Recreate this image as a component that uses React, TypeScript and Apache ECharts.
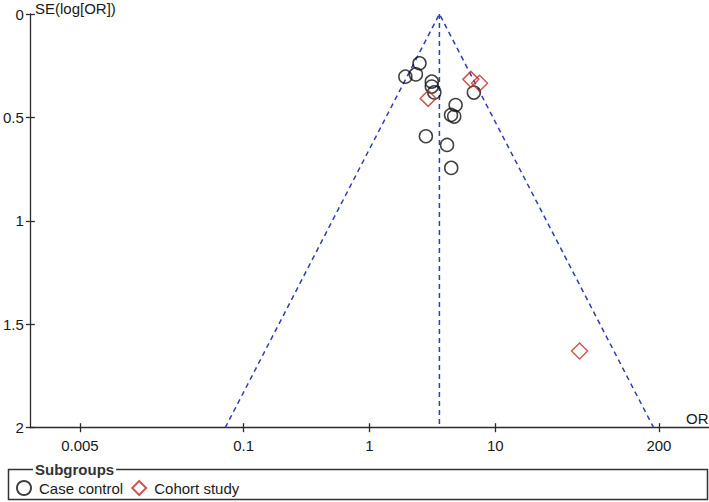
import React, { useEffect, useRef } from "react";
import * as echarts from "echarts";

// Case control studies: odds ratio and SE(log[OR])
const caseControlOR = [2.5, 1.93, 2.34, 3.13, 3.13, 3.28, 4.84, 4.45, 4.72, 2.81, 4.14, 4.47, 6.76];
const caseControlSE = [0.238, 0.303, 0.292, 0.327, 0.351, 0.379, 0.44, 0.488, 0.496, 0.591, 0.633, 0.744, 0.38];
// Cohort studies
const cohortOR = [6.4, 7.5, 2.93, 46.8];
const cohortSE = [0.316, 0.335, 0.408, 1.629];
// Pooled estimate and funnel extent
const pooledOR = 3.6;
const funnelSEMax = 2;
const xTickLabels = [0.005, 0.1, 1, 10, 200];
const yTicks = [0, 0.5, 1, 1.5, 2];
const xMinOR = 0.002;
const xMaxOR = 500;

const FONT = "'Liberation Sans', Arial, sans-serif";
const FS = 15;

export default function App() {
  const ref = useRef<HTMLDivElement>(null);
  useEffect(() => {
    if (!ref.current) return;
    const chart = echarts.init(ref.current, undefined, { renderer: "svg" });
    const lg = (v: number) => Math.log10(v);
    const z = 1.96;
    const lo = Math.exp(Math.log(pooledOR) - z * funnelSEMax);
    const hi = Math.exp(Math.log(pooledOR) + z * funnelSEMax);
    const tickVals = xTickLabels.map(lg);
    const fmtX = (v: number) => {
      let best = 0;
      tickVals.forEach((t, i) => {
        if (Math.abs(t - v) < Math.abs(tickVals[best] - v)) best = i;
      });
      return String(xTickLabels[best]);
    };
    const axisColor = "#2b2b2b";
    const dash = { color: "#2f3db3", width: 1.5, type: [5, 4] as number[] };
    const xBase = {
      type: "value" as const,
      position: "bottom" as const,
      min: lg(xMinOR),
      max: lg(xMaxOR),
      splitLine: { show: false },
    };
    const yBase = {
      type: "value" as const,
      position: "left" as const,
      inverse: true,
      min: yTicks[0],
      max: yTicks[yTicks.length - 1],
      interval: 0.5,
      splitLine: { show: false },
    };
    chart.setOption({
      animation: false,
      grid: { left: 26.5, right: 0, top: 14, bottom: 74.3 },
      xAxis: [
        {
          ...xBase,
          axisLine: { show: true, onZero: false, lineStyle: { color: axisColor, width: 1.3 } },
          axisTick: { show: true, customValues: tickVals, length: 4.5, lineStyle: { color: axisColor, width: 1.3 } },
          axisLabel: {
            customValues: tickVals,
            formatter: fmtX,
            margin: 10,
            fontSize: FS,
            color: "#1a1a1a",
            fontFamily: FONT,
          },
        },
        {
          ...xBase,
          axisLine: { show: false, onZero: false },
          axisTick: { show: true, inside: true, customValues: tickVals, length: 4.5, lineStyle: { color: axisColor, width: 1.3 } },
          axisLabel: { show: false },
        },
      ],
      yAxis: [
        {
          ...yBase,
          axisLine: { show: true, onZero: false, lineStyle: { color: axisColor, width: 1.3 } },
          axisTick: { show: true, length: 4, lineStyle: { color: axisColor, width: 1.3 } },
          axisLabel: {
            formatter: (v: number) => String(v),
            margin: 6,
            fontSize: FS,
            color: "#1a1a1a",
            fontFamily: FONT,
            padding: [7, 0, 0, 0],
          },
        },
        {
          ...yBase,
          axisLine: { show: false, onZero: false },
          axisTick: { show: true, inside: true, length: 5, lineStyle: { color: axisColor, width: 1.3 } },
          axisLabel: { show: false },
        },
      ],
      legend: {
        data: ["Case control", "Cohort study"],
        left: 11,
        top: 475,
        orient: "horizontal",
        itemWidth: 14,
        itemHeight: 14,
        itemGap: 8,
        textStyle: { fontSize: FS, color: "#1a1a1a", fontFamily: FONT, padding: [6, 0, 0, 3] },
      },
      graphic: [
        {
          type: "rect",
          shape: { x: 8.5, y: 469.5, width: 699, height: 30 },
          style: { fill: "none", stroke: "#333", lineWidth: 1.5 },
          z: 1,
        },
        {
          type: "text",
          x: 33,
          y: 469,
          z: 2,
          style: {
            text: "Subgroups",
            fontSize: FS,
            fontWeight: "bold",
            fontFamily: FONT,
            fill: "#333",
            backgroundColor: "#fff",
            padding: [0, 2],
            verticalAlign: "middle",
          },
        },
        {
          type: "text",
          x: 35,
          y: 8,
          style: { text: "SE(log[OR])", fontSize: FS, fontFamily: FONT, fill: "#1a1a1a", verticalAlign: "middle" },
        },
        {
          type: "text",
          x: 686,
          y: 418,
          style: { text: "OR", fontSize: FS, fontFamily: FONT, fill: "#1a1a1a", verticalAlign: "middle" },
        },
      ],
      series: [
        {
          type: "line",
          name: "funnel",
          data: [
            [lg(lo), funnelSEMax],
            [lg(pooledOR), 0],
            [lg(hi), funnelSEMax],
          ],
          symbol: "none",
          lineStyle: dash,
          silent: true,
          z: 1,
        },
        {
          type: "line",
          name: "pooled",
          data: [
            [lg(pooledOR), 0],
            [lg(pooledOR), funnelSEMax],
          ],
          symbol: "none",
          lineStyle: dash,
          silent: true,
          z: 1,
        },
        {
          type: "scatter",
          name: "Case control",
          data: caseControlOR.map((o, i) => [lg(o), caseControlSE[i]]),
          symbol: "circle",
          symbolSize: 13,
          itemStyle: { color: "rgba(0,0,0,0)", borderColor: "#111", borderWidth: 1.5 },
          z: 3,
        },
        {
          type: "scatter",
          name: "Cohort study",
          data: cohortOR.map((o, i) => [lg(o), cohortSE[i]]),
          symbol: "diamond",
          symbolSize: 16,
          itemStyle: { color: "rgba(0,0,0,0)", borderColor: "#c0312b", borderWidth: 1.5 },
          z: 3,
        },
      ],
    });
    return () => chart.dispose();
  }, []);
  return (
    <div
      ref={ref}
      style={{ position: "fixed", left: 0, top: 0, width: 709, height: 502, background: "#fff" }}
    />
  );
}
